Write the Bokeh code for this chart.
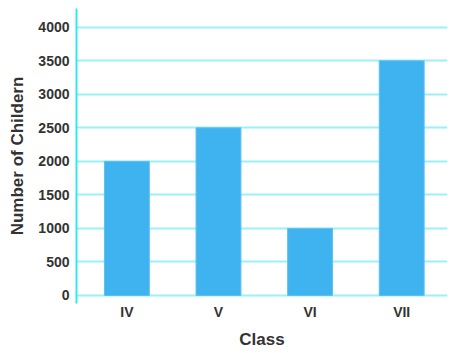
from bokeh.plotting import figure
from bokeh.models import Range1d, FixedTicker, ColumnDataSource
from bokeh.embed import file_html
from bokeh.resources import INLINE

classes = ["IV", "V", "VI", "VII"]
children = [2000, 2500, 1000, 3500]
y_ticks = [0, 500, 1000, 1500, 2000, 2500, 3000, 3500, 4000]

xs = [i + 0.5 for i in range(len(classes))]
src = ColumnDataSource(dict(x=xs, top=children))

p = figure(width=456, height=353, output_backend="svg", toolbar_location=None,
           x_range=Range1d(-0.05, 4.0), y_range=Range1d(-120, 4280),
           min_border_left=76, min_border_right=9, min_border_top=8, min_border_bottom=50)
p.outline_line_color = None
p.background_fill_color = "white"
p.border_fill_color = "white"

p.vbar(x="x", top="top", bottom=0, width=0.49, source=src,
       fill_color="#3EB3F0", line_color="#5CC0F2", line_width=1)

p.xgrid.visible = False
p.ygrid.ticker = FixedTicker(ticks=y_ticks)
p.ygrid.grid_line_color = "#9AF2F7"
p.ygrid.grid_line_width = 2

p.yaxis.ticker = FixedTicker(ticks=y_ticks)
p.xaxis.ticker = FixedTicker(ticks=xs)
p.xaxis.major_label_overrides = {x: c for x, c in zip(xs, classes)}

for ax in (p.xaxis, p.yaxis):
    ax.major_tick_line_color = None
    ax.minor_tick_line_color = None
    ax.major_tick_out = 0
    ax.major_tick_in = 0
    ax.minor_tick_out = 0
    ax.major_label_text_font = "Liberation Sans"
    ax.major_label_text_font_style = "bold"
    ax.major_label_text_color = "#333333"
    ax.major_label_text_font_size = "14px"
    ax.axis_label_text_font = "Liberation Sans"
    ax.axis_label_text_font_style = "bold"
    ax.axis_label_text_color = "#333333"
    ax.axis_label_text_font_size = "17px"

p.xaxis.axis_line_color = None
p.yaxis.axis_line_color = "#33E8F0"
p.yaxis.axis_line_width = 2
p.yaxis.major_label_standoff = 7
p.xaxis.major_label_standoff = 0
p.xaxis.axis_label = "Class"
p.yaxis.axis_label = "Number of Childern"
p.xaxis.axis_label_standoff = 7
p.yaxis.axis_label_standoff = 8

open("out.html", "w").write(file_html(p, INLINE))
